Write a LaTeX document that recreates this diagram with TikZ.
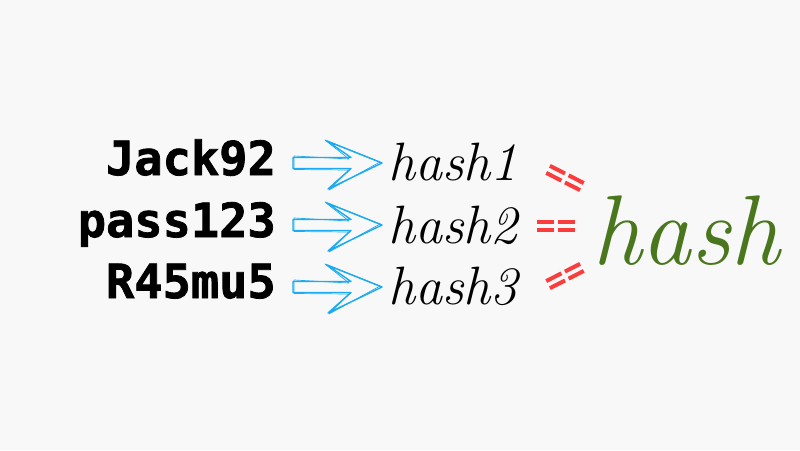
\documentclass[tikz,border=0pt]{standalone}
\usepackage{fontspec}
\newfontfamily\monob{DejaVu Sans Mono Bold}[FakeBold=1.6]
\definecolor{bg}{RGB}{248,248,248}
\definecolor{arrowblue}{RGB}{28,170,240}
\definecolor{eqred}{RGB}{250,60,60}
\definecolor{hgreen}{RGB}{74,118,30}
\tikzset{
  pw/.style={anchor=base east, inner sep=0pt, font=\fontsize{47}{47}\monob},
  hs/.style={anchor=base west, inner sep=0pt, font=\fontsize{54}{54}\selectfont\itshape},
  sketch/.style={draw=arrowblue, line width=1.4pt, line join=round, line cap=round},
  sketchb/.style={draw=arrowblue, line width=0.7pt, line join=round, line cap=round},
  bar/.style={draw=eqred, line width=4pt},
  blockarrow/.pic={
    \draw[sketch] (0,-5.5) -- (58,-5.5) -- (34,-22) -- (89,0) -- (35,26) -- (58,5.5) -- (0,5.5) -- cycle;
    \draw[sketchb] (1,-7) -- (56,-4) -- (32,-23) -- (87,-1) -- (36,27) -- (56,7) -- (1,6.5) -- cycle;
  },
  eqeq/.pic={
    \draw[bar] (-19,-4) -- (-2,-4); \draw[bar] (-19,4) -- (-2,4);
    \draw[bar] (2,-4) -- (19,-4); \draw[bar] (2,4) -- (19,4);
  }
}
\begin{document}
\begin{tikzpicture}[x=1pt,y=-1pt]
\fill[bg] (0,0) rectangle (800,450);
\useasboundingbox (0,0) rectangle (800,450);
\node[pw] (p1) at (276,175) {Jack92};
\node[pw] (p2) at (276,237) {pass123};
\node[pw] (p3) at (276,298) {R45mu5};
\pic at (293,163) {blockarrow};
\pic at (293,225) {blockarrow};
\pic at (293,287) {blockarrow};
\node[hs] (h1) at (388,180) {hash1};
\node[hs] (h2) at (388,243) {hash2};
\node[hs] (h3) at (388,304) {hash3};
\pic[rotate=-27] at (565,178) {eqeq};
\pic at (556,226) {eqeq};
\pic[rotate=27] at (565,276) {eqeq};
\node[anchor=base west, inner sep=0pt, text=hgreen, font=\fontsize{99}{99}\selectfont\itshape] (hh) at (592,264) {hash};
\end{tikzpicture}
\end{document}
